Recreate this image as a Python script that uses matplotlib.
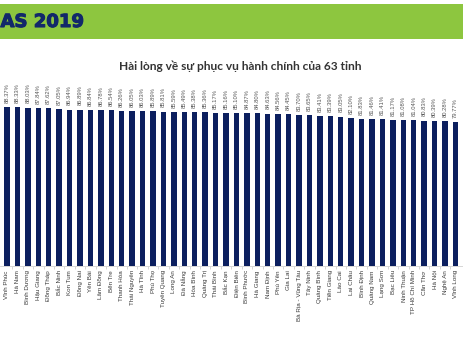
import matplotlib
matplotlib.use("Agg")
from matplotlib import pyplot as plt
from matplotlib.patches import Rectangle
from matplotlib import patheffects as pe
import numpy as np

# Mức độ hài lòng theo tỉnh (SIPAS 2019)
provinces = [
    "Vĩnh Phúc", "Hà Nam", "Bình Dương", "Hậu Giang", "Đồng Tháp",
    "Bắc Ninh", "Kon Tum", "Đồng Nai", "Yên Bái", "Lâm Đồng",
    "Bến Tre", "Thanh Hóa", "Thái Nguyên", "Hà Tĩnh", "Phú Thọ",
    "Tuyên Quang", "Long An", "Đà Nẵng", "Hòa Bình", "Quảng Trị",
    "Thái Bình", "Bắc Kạn", "Điện Biên", "Bình Phước", "Hà Giang",
    "Nam Định", "Phú Yên", "Gia Lai", "Bà Rịa - Vũng Tàu", "Tây Ninh",
    "Quảng Bình", "Tiền Giang", "Lào Cai", "Lai Châu", "Bình Định",
    "Quảng Nam", "Lạng Sơn", "Bạc Liêu", "Ninh Thuận", "TP Hồ Chí Minh",
    "Cần Thơ", "Hà Nội", "Nghệ An", "Vĩnh Long",
]
satisfaction = [
    88.37, 88.33, 88.03, 87.84, 87.62, 87.05, 86.94, 86.89, 86.84, 86.78,
    86.54, 86.26, 86.05, 86.03, 85.89, 85.81, 85.59, 85.49, 85.38, 85.36,
    85.17, 85.16, 85.10, 84.87, 84.80, 84.63, 84.56, 84.45, 83.70, 83.65,
    83.41, 83.39, 83.05, 82.10, 81.83, 81.46, 81.41, 81.17, 81.08, 81.04,
    80.83, 80.39, 80.28, 79.77,
]
title = "Hài lòng về sự phục vụ hành chính của 63 tỉnh"
banner = "AS 2019"

W, H = 463, 348
fig = plt.figure(figsize=(W / 100, H / 100), dpi=100)
fig.patch.set_facecolor("white")

# green banner across the top
fig.patches.append(Rectangle((0, 1 - 39 / H), 1, 35 / H,
                             transform=fig.transFigure,
                             facecolor="#8dc63f", edgecolor="none"))
fig.text(0.5 / W, 1 - 22 / H, banner, ha="left", va="center",
         fontsize=13, fontweight="bold", color="#12286a",
         family=["DejaVu Sans"],
         path_effects=[pe.withStroke(linewidth=0.8, foreground="#12286a")])

fig.text(240 / W, 1 - 66 / H, title, ha="center", va="center",
         fontsize=8.6, fontweight="bold", color="#333333",
         family=["Lato", "DejaVu Sans"])

# axes: baseline at y=266px, 1.8 px per percent
base = 266
top = 40
ax = fig.add_axes([0, (H - base) / H, 1, (base - top) / H])
x = np.arange(len(provinces))
step = 10.43
x0 = -7 / step
ax.set_xlim(x0, x0 + W / step)
ax.set_ylim(0, (base - top) / 1.8)

ax.bar(x, satisfaction, width=0.52, color="#0c1f5f", zorder=2)

for xi, v in zip(x, satisfaction):
    ax.annotate(f"{v:.2f}%", (xi, v), xytext=(0, 3), textcoords="offset points",
                rotation=90, ha="center", va="bottom", fontsize=4.2,
                color="#555555", family=["Liberation Sans", "DejaVu Sans"])

for s in ["top", "right", "left"]:
    ax.spines[s].set_visible(False)
ax.spines["bottom"].set_color("#d0d0d0")
ax.spines["bottom"].set_linewidth(0.6)
ax.set_yticks([])
ax.set_xticks(x)
ax.set_xticklabels(provinces, rotation=90, fontsize=4.5, color="#3a3a3a",
                   family=["Liberation Sans", "DejaVu Sans"])
ax.tick_params(axis="x", length=0, pad=3)
ax.set_xticks(x[:-1] + 0.5, minor=True)
ax.tick_params(axis="x", which="minor", length=2, width=0.5, color="#c8c8c8")
ax.patch.set_alpha(0)

fig.savefig("out.png", dpi=100)
